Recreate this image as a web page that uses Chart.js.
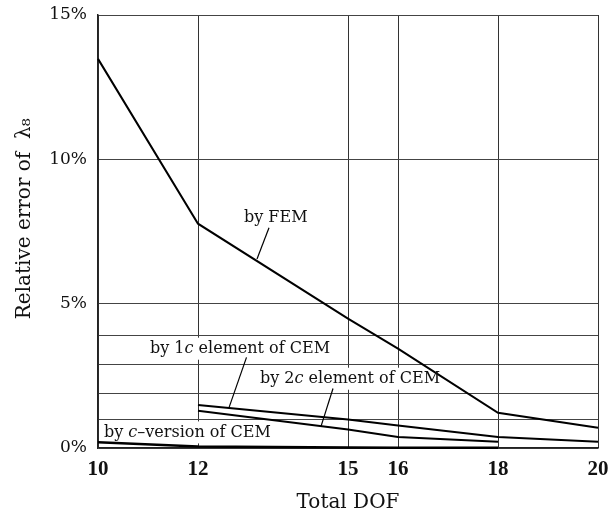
<!DOCTYPE html>
<html>
<head>
<meta charset="utf-8">
<script src="https://cdn.jsdelivr.net/npm/chart.js@4/dist/chart.umd.min.js"></script>
<style>
  html, body { margin: 0; padding: 0; background: #fff; }
  canvas { display: block; }
</style>
</head>
<body>
<canvas id="chart" width="609" height="516"></canvas>
<script>
// values (relative error in %)
const dof = [10, 12, 15, 16, 18, 20];
const femErr = [13.48, 7.77, 4.48, 3.44, 1.22, 0.70];
const cem1cErr = [null, 1.49, 0.99, 0.78, 0.38, 0.22];
const cem2cErr = [null, 1.29, 0.64, 0.38, 0.22, null];
const cVersionErr = [0.20, 0.05, 0.02, 0.01, 0.01, null];

const xTicks = [10, 12, 15, 16, 18, 20];
const yLabelled = [0, 5, 10, 15];
const yExtraGrid = [1.0, 1.9, 2.9, 3.9];

const serif = 'DejaVu Serif';

function pts(ys) {
  return dof.map((x, i) => ({ x: x, y: ys[i] }));
}

function lineSet(label, ys, width) {
  return {
    label: label,
    data: pts(ys),
    borderColor: '#000',
    borderWidth: width,
    pointRadius: 0,
    tension: 0,
    spanGaps: false,
    clip: 4
  };
}

// annotation texts, placed in data units: [text, italic]
const notes = [
  { parts: [['by FEM', false]], at: [12.92, 7.97], lead: [[13.42, 7.63], [13.18, 6.55]] },
  { parts: [['by 1', false], ['c', true], [' element of CEM', false]], at: [11.04, 3.44], lead: [[12.97, 3.14], [12.62, 1.40]] },
  { parts: [['by 2', false], ['c', true], [' element of CEM', false]], at: [13.24, 2.40], lead: [[14.70, 2.06], [14.46, 0.75]] },
  { parts: [['by ', false], ['c', true], ['\u2013version of CEM', false]], at: [10.12, 0.54], lead: null }
];

function noteFont(italic) {
  return (italic ? 'italic ' : '') + '16px "' + serif + '"';
}

function noteWidth(ctx, n) {
  let w = 0;
  n.parts.forEach(p => { ctx.font = noteFont(p[1]); w += ctx.measureText(p[0]).width; });
  return w;
}

const notesPlugin = {
  id: 'notes',
  beforeDatasetsDraw(chart) {
    const ctx = chart.ctx, xs = chart.scales.x, ys = chart.scales.y;
    ctx.save();
    ctx.fillStyle = '#fff';
    notes.forEach(n => {
      if (n.parts.length === 1) return;
      const px = xs.getPixelForValue(n.at[0]);
      const py = ys.getPixelForValue(n.at[1]);
      const w = noteWidth(ctx, n);
      ctx.fillRect(px - 2, py - 11, w + 4, 22);
    });
    ctx.restore();
  },
  afterDatasetsDraw(chart) {
    const ctx = chart.ctx, xs = chart.scales.x, ys = chart.scales.y;
    ctx.save();
    ctx.fillStyle = '#111';
    ctx.textBaseline = 'middle';
    ctx.textAlign = 'left';
    notes.forEach(n => {
      let px = xs.getPixelForValue(n.at[0]);
      const py = ys.getPixelForValue(n.at[1]);
      n.parts.forEach(p => {
        ctx.font = noteFont(p[1]);
        ctx.fillText(p[0], px, py);
        px += ctx.measureText(p[0]).width;
      });
      if (n.lead) {
        ctx.beginPath();
        ctx.strokeStyle = '#000';
        ctx.lineWidth = 1.2;
        ctx.moveTo(xs.getPixelForValue(n.lead[0][0]), ys.getPixelForValue(n.lead[0][1]));
        ctx.lineTo(xs.getPixelForValue(n.lead[1][0]), ys.getPixelForValue(n.lead[1][1]));
        ctx.stroke();
      }
    });
    ctx.restore();
  }
};

const cfg = {
  type: 'line',
  data: {
    datasets: [
      lineSet('by FEM', femErr, 2),
      lineSet('by 1c element of CEM', cem1cErr, 2),
      lineSet('by 2c element of CEM', cem2cErr, 2),
      lineSet('by c-version of CEM', cVersionErr, 2.5)
    ]
  },
  options: {
    responsive: false,
    animation: false,
    layout: { padding: { top: 15, right: 11, left: 0, bottom: 0 } },
    plugins: { legend: { display: false }, tooltip: { enabled: false } },
    scales: {
      x: {
        type: 'linear',
        min: 10,
        max: 20,
        afterBuildTicks: s => { s.ticks = xTicks.map(v => ({ value: v })); },
        afterFit: s => { s.height = 68; s.paddingLeft = 0; s.paddingRight = 0; },
        grid: { color: '#333', lineWidth: 1, drawTicks: false },
        border: { color: '#222', width: 1.5 },
        ticks: {
          padding: 9,
          color: '#111',
          maxRotation: 0,
          font: { family: 'Liberation Serif', size: 21, weight: 'bold' }
        },
        title: {
          display: true,
          text: 'Total DOF',
          color: '#111',
          font: { family: serif, size: 20 },
          padding: { top: 0, bottom: 1 }
        }
      },
      y: {
        min: 0,
        max: 15,
        afterBuildTicks: s => {
          s.ticks = yLabelled.concat(yExtraGrid).sort((a, b) => a - b).map(v => ({ value: v }));
        },
        afterFit: s => { s.width = 98; s.paddingTop = 0; s.paddingBottom = 0; },
        grid: { color: '#444', lineWidth: 1, drawTicks: false },
        border: { color: '#222', width: 1.5 },
        ticks: {
          padding: 11,
          color: '#111',
          font: { family: serif, size: 17 },
          callback: v => yLabelled.includes(v) ? v + '%' : ''
        },
        title: {
          display: true,
          text: '    Relative error of  \u03bb\u2088',
          color: '#111',
          font: { family: serif, size: 20 },
          padding: { top: 13, bottom: 0 }
        }
      }
    }
  },
  plugins: [notesPlugin]
};

new Chart(document.getElementById('chart'), cfg);
</script>
</body>
</html>
